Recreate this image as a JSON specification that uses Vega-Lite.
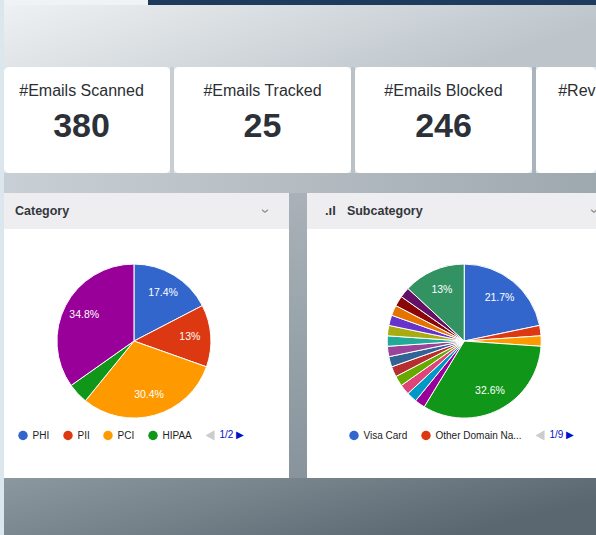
{
  "$schema": "https://vega.github.io/schema/vega-lite/v6.json",
  "background": "#dce7ed",
  "padding": {"left": 4, "top": 0, "right": 0, "bottom": 0},
  "spacing": 0,
  "config": {
    "view": {"stroke": null},
    "concat": {"spacing": 0},
    "text": {"font": "Liberation Sans"}
  },
  "datasets": {
    "kpi": [
      {"card": "Scanned", "label": "#Emails Scanned", "value": 380},
      {"card": "Tracked", "label": "#Emails Tracked", "value": 25},
      {"card": "Blocked", "label": "#Emails Blocked", "value": 246},
      {"card": "Reviewed", "label": "#Reviewed Emails"}
    ],
    "panels": [
      {"panel": "Category"},
      {"panel": "Subcategory"}
    ],
    "category": [
      {"category": "PHI", "count": 4, "idx": 1},
      {"category": "PII", "count": 3, "idx": 2},
      {"category": "PCI", "count": 7, "idx": 3},
      {"category": "HIPAA", "count": 1, "idx": 4},
      {"category": "GDPR", "count": 8, "idx": 5}
    ],
    "subcategory": [
      {"subcategory": "Visa Card", "count": 10, "idx": 1},
      {"subcategory": "Other Domain Names", "count": 1, "idx": 2},
      {"subcategory": "MasterCard", "count": 1, "idx": 3},
      {"subcategory": "Email Address", "count": 15, "idx": 4},
      {"subcategory": "SSN", "count": 1, "idx": 5},
      {"subcategory": "Phone Number", "count": 1, "idx": 6},
      {"subcategory": "Date of Birth", "count": 1, "idx": 7},
      {"subcategory": "Passport Number", "count": 1, "idx": 8},
      {"subcategory": "Driver License", "count": 1, "idx": 9},
      {"subcategory": "Bank Account", "count": 1, "idx": 10},
      {"subcategory": "Medical Record", "count": 1, "idx": 11},
      {"subcategory": "Health Plan ID", "count": 1, "idx": 12},
      {"subcategory": "IP Address", "count": 1, "idx": 13},
      {"subcategory": "Amex Card", "count": 1, "idx": 14},
      {"subcategory": "IBAN", "count": 1, "idx": 15},
      {"subcategory": "Tax ID", "count": 1, "idx": 16},
      {"subcategory": "Home Address", "count": 1, "idx": 17},
      {"subcategory": "Full Name", "count": 6, "idx": 18}
    ]
  },
  "resolve": {"scale": {"x": "independent", "y": "independent", "color": "independent", "theta": "independent"}, "legend": {"color": "independent"}},
  "vconcat": [
    {
      "hconcat": [
        {"width": 144, "height": 5, "view": {"fill": "#f0f3f5", "stroke": null}, "data": {"values": [{}]}, "mark": {"type": "text", "text": "", "fontSize": 0}},
        {"width": 448, "height": 5, "view": {"fill": "#1e3a5c", "stroke": null}, "data": {"values": [{}]}, "mark": {"type": "text", "text": "", "fontSize": 0}}
      ],
      "spacing": 0
    },
    {
      "width": 592, "height": 62,
      "view": {"stroke": null, "fill": {"gradient": "linear", "x1": 0, "y1": 0, "x2": 1, "y2": 0.3, "stops": [{"offset": 0, "color": "#eef1f3"}, {"offset": 0.5, "color": "#d6dbdf"}, {"offset": 1, "color": "#bdc5cb"}]}},
      "data": {"values": [{}]},
      "mark": {"type": "text", "text": "", "fontSize": 0}
    },
    {
      "hconcat": [
        {
          "width": 166, "height": 106,
          "view": {"fill": "#ffffff", "stroke": null, "cornerRadius": 5},
          "data": {"name": "kpi"},
          "transform": [{"filter": "datum.card === 'Scanned'"}],
          "encoding": {"x": {"datum": "c", "type": "nominal", "scale": {"type": "point", "domain": ["c"], "padding": 0, "align": 0.467}, "axis": null}},
          "layer": [
            {"mark": {"type": "text", "fontSize": 16, "color": "#2b2e33", "baseline": "alphabetic"},
             "encoding": {"text": {"field": "label"}, "y": {"datum": "label", "type": "nominal", "scale": {"type": "point", "domain": ["label", "value"], "padding": 0.793, "align": 0.446}, "axis": null}}},
            {"mark": {"type": "text", "fontSize": 34, "fontWeight": "bold", "color": "#2c3039", "baseline": "alphabetic"},
             "encoding": {"text": {"field": "value"}, "y": {"datum": "value", "type": "nominal", "scale": {"type": "point", "domain": ["label", "value"], "padding": 0.793, "align": 0.446}, "axis": null}}}
          ]
        },
        {"width": 4, "height": 106, "view": {"fill": "#c8cfd4", "stroke": null}, "data": {"values": [{}]}, "mark": {"type": "text", "text": "", "fontSize": 0}},
        {
          "width": 177, "height": 106,
          "view": {"fill": "#ffffff", "stroke": null, "cornerRadius": 5},
          "data": {"name": "kpi"},
          "transform": [{"filter": "datum.card === 'Tracked'"}],
          "layer": [
            {"mark": {"type": "text", "fontSize": 16, "color": "#2b2e33", "baseline": "alphabetic"},
             "encoding": {"text": {"field": "label"}, "y": {"datum": "label", "type": "nominal", "scale": {"type": "point", "domain": ["label", "value"], "padding": 0.793, "align": 0.446}, "axis": null}}},
            {"mark": {"type": "text", "fontSize": 34, "fontWeight": "bold", "color": "#2c3039", "baseline": "alphabetic"},
             "encoding": {"text": {"field": "value"}, "y": {"datum": "value", "type": "nominal", "scale": {"type": "point", "domain": ["label", "value"], "padding": 0.793, "align": 0.446}, "axis": null}}}
          ]
        },
        {"width": 4, "height": 106, "view": {"fill": "#bac2c8", "stroke": null}, "data": {"values": [{}]}, "mark": {"type": "text", "text": "", "fontSize": 0}},
        {
          "width": 177, "height": 106,
          "view": {"fill": "#ffffff", "stroke": null, "cornerRadius": 5},
          "data": {"name": "kpi"},
          "transform": [{"filter": "datum.card === 'Blocked'"}],
          "layer": [
            {"mark": {"type": "text", "fontSize": 16, "color": "#2b2e33", "baseline": "alphabetic"},
             "encoding": {"text": {"field": "label"}, "y": {"datum": "label", "type": "nominal", "scale": {"type": "point", "domain": ["label", "value"], "padding": 0.793, "align": 0.446}, "axis": null}}},
            {"mark": {"type": "text", "fontSize": 34, "fontWeight": "bold", "color": "#2c3039", "baseline": "alphabetic"},
             "encoding": {"text": {"field": "value"}, "y": {"datum": "value", "type": "nominal", "scale": {"type": "point", "domain": ["label", "value"], "padding": 0.793, "align": 0.446}, "axis": null}}}
          ]
        },
        {"width": 4, "height": 106, "view": {"fill": "#abb4bb", "stroke": null}, "data": {"values": [{}]}, "mark": {"type": "text", "text": "", "fontSize": 0}},
        {
          "width": 60, "height": 106,
          "view": {"fill": "#ffffff", "stroke": null, "cornerRadius": 5},
          "data": {"name": "kpi"},
          "transform": [{"filter": "datum.card === 'Reviewed'"}],
          "mark": {"type": "text", "fontSize": 16, "color": "#2b2e33", "baseline": "alphabetic", "align": "left", "clip": true},
          "encoding": {
            "text": {"field": "label"},
            "x": {"datum": "c", "type": "nominal", "scale": {"type": "point", "domain": ["c"], "padding": 0, "align": 0.37}, "axis": null},
            "y": {"datum": "label", "type": "nominal", "scale": {"type": "point", "domain": ["label", "value"], "padding": 0.793, "align": 0.446}, "axis": null}
          }
        }
      ],
      "spacing": 0,
      "resolve": {"scale": {"x": "independent", "y": "independent"}}
    },
    {
      "width": 592, "height": 20,
      "view": {"stroke": null, "fill": {"gradient": "linear", "x1": 0, "y1": 0, "x2": 1, "y2": 0, "stops": [{"offset": 0, "color": "#c9d0d5"}, {"offset": 0.5, "color": "#b4bcc2"}, {"offset": 1, "color": "#9ea8af"}]}},
      "data": {"values": [{}]},
      "mark": {"type": "text", "text": "", "fontSize": 0}
    },
    {
      "hconcat": [
        {
          "vconcat": [
            {
              "width": 285, "height": 36,
              "view": {"fill": "#eeeef0", "stroke": null},
              "data": {"name": "panels"},
              "transform": [{"filter": "datum.panel === 'Category'"}],
              "layer": [
                {"mark": {"type": "text", "align": "left", "baseline": "middle", "fontSize": 12.5, "fontWeight": "bold", "color": "#33363b"},
                 "encoding": {"text": {"field": "panel"}, "x": {"datum": "a", "type": "nominal", "scale": {"type": "point", "domain": ["a"], "padding": 0, "align": 0.0386}, "axis": null}}},
                {"mark": {"type": "text", "text": "›", "angle": 90, "align": "center", "baseline": "middle", "fontSize": 15, "color": "#7a7d82"},
                 "encoding": {"x": {"datum": "b", "type": "nominal", "scale": {"type": "point", "domain": ["b"], "padding": 0, "align": 0.919}, "axis": null}}}
              ],
              "resolve": {"scale": {"x": "independent"}}
            },
            {
              "width": 285, "height": 249,
              "view": {"fill": "#ffffff", "stroke": null},
              "data": {"name": "category"},
              "encoding": {
                "x": {"datum": "c", "type": "nominal", "scale": {"type": "point", "domain": ["c"], "padding": 0, "align": 0.456}, "axis": null},
                "y": {"datum": "c", "type": "nominal", "scale": {"type": "point", "domain": ["c"], "padding": 0, "align": 0.45}, "axis": null},
                "theta": {"field": "count", "type": "quantitative", "stack": true},
                "order": {"field": "idx", "type": "quantitative"}
              },
              "layer": [
                {
                  "mark": {"type": "arc", "outerRadius": 77, "stroke": "#ffffff", "strokeWidth": 1},
                  "encoding": {
                    "color": {
                      "field": "category", "type": "nominal",
                      "scale": {"domain": ["PHI", "PII", "PCI", "HIPAA", "GDPR", "1/2"], "range": ["#3366cc", "#dc3912", "#ff9900", "#109618", "#990099", "#cccccc"]},
                      "legend": {
                        "orient": "none", "legendX": 14, "legendY": 237, "direction": "horizontal", "columns": 5, "title": null,
                        "values": ["PHI", "PII", "PCI", "HIPAA", "1/2"],
                        "symbolType": {"expr": "datum.value === '1/2' ? 'triangle-left' : 'circle'"},
                        "symbolSize": {"expr": "datum.value === '1/2' ? 110 : 90"},
                        "symbolStrokeWidth": 0,
                        "labelFont": "Liberation Sans", "labelFontSize": 10, "labelOffset": 4.5,
                        "labelColor": {"expr": "datum.value === '1/2' ? '#0011cc' : '#222222'"},
                        "columnPadding": 13, "padding": 0,
                        "labelExpr": "datum.value === '1/2' ? '1/2 ▶' : datum.label"
                      }
                    }
                  }
                },
                {
                  "transform": [
                    {"joinaggregate": [{"op": "sum", "field": "count", "as": "total"}]},
                    {"calculate": "datum.count / datum.total > 0.05 ? format(datum.count / datum.total, '.1~%') : ''", "as": "lbl"}
                  ],
                  "mark": {"type": "text", "radius": 56, "fill": "#ffffff", "fontSize": 10.5, "font": "Liberation Sans", "align": "center", "baseline": "middle"},
                  "encoding": {"text": {"field": "lbl"}, "detail": {"field": "category"}}
                }
              ]
            }
          ],
          "spacing": 0,
          "resolve": {"scale": {"x": "independent", "y": "independent"}}
        },
        {
          "width": 18, "height": 285,
          "view": {"stroke": null, "fill": {"gradient": "linear", "x1": 0, "y1": 0, "x2": 0, "y2": 1, "stops": [{"offset": 0, "color": "#a9b2b9"}, {"offset": 1, "color": "#88939b"}]}},
          "data": {"values": [{}]},
          "mark": {"type": "text", "text": "", "fontSize": 0}
        },
        {
          "vconcat": [
            {
              "width": 289, "height": 36,
              "view": {"fill": "#eeeef0", "stroke": null},
              "data": {"name": "panels"},
              "transform": [{"filter": "datum.panel === 'Subcategory'"}],
              "layer": [
                {"mark": {"type": "text", "text": ".ıl", "align": "left", "baseline": "middle", "fontSize": 13, "fontWeight": "bold", "color": "#33363b"},
                 "encoding": {"x": {"datum": "i", "type": "nominal", "scale": {"type": "point", "domain": ["i"], "padding": 0, "align": 0.062}, "axis": null}}},
                {"mark": {"type": "text", "align": "left", "baseline": "middle", "fontSize": 12.5, "fontWeight": "bold", "color": "#33363b"},
                 "encoding": {"text": {"field": "panel"}, "x": {"datum": "a", "type": "nominal", "scale": {"type": "point", "domain": ["a"], "padding": 0, "align": 0.138}, "axis": null}}},
                {"mark": {"type": "text", "text": "›", "angle": 90, "align": "center", "baseline": "middle", "fontSize": 15, "color": "#7a7d82", "clip": true},
                 "encoding": {"x": {"datum": "b", "type": "nominal", "scale": {"type": "point", "domain": ["b"], "padding": 0, "align": 0.997}, "axis": null}}}
              ],
              "resolve": {"scale": {"x": "independent"}}
            },
            {
              "width": 289, "height": 249,
              "view": {"fill": "#ffffff", "stroke": null},
              "data": {"name": "subcategory"},
              "encoding": {
                "x": {"datum": "c", "type": "nominal", "scale": {"type": "point", "domain": ["c"], "padding": 0, "align": 0.544}, "axis": null},
                "y": {"datum": "c", "type": "nominal", "scale": {"type": "point", "domain": ["c"], "padding": 0, "align": 0.45}, "axis": null},
                "theta": {"field": "count", "type": "quantitative", "stack": true},
                "order": {"field": "idx", "type": "quantitative"}
              },
              "layer": [
                {
                  "mark": {"type": "arc", "outerRadius": 77, "stroke": "#ffffff", "strokeWidth": 1},
                  "encoding": {
                    "color": {
                      "field": "subcategory", "type": "nominal",
                      "scale": {
                        "domain": ["Visa Card", "Other Domain Names", "MasterCard", "Email Address", "SSN", "Phone Number", "Date of Birth", "Passport Number", "Driver License", "Bank Account", "Medical Record", "Health Plan ID", "IP Address", "Amex Card", "IBAN", "Tax ID", "Home Address", "Full Name", "1/9"],
                        "range": ["#3366cc", "#dc3912", "#ff9900", "#109618", "#990099", "#0099c6", "#dd4477", "#66aa00", "#b82e2e", "#316395", "#994499", "#22aa99", "#aaaa11", "#6633cc", "#e67300", "#8b0707", "#651067", "#329262", "#cccccc"]
                      },
                      "legend": {
                        "orient": "none", "legendX": 42, "legendY": 237, "direction": "horizontal", "columns": 3, "title": null,
                        "values": ["Visa Card", "Other Domain Names", "1/9"],
                        "symbolType": {"expr": "datum.value === '1/9' ? 'triangle-left' : 'circle'"},
                        "symbolSize": {"expr": "datum.value === '1/9' ? 110 : 90"},
                        "symbolStrokeWidth": 0,
                        "labelFont": "Liberation Sans", "labelFontSize": 10, "labelOffset": 4.5,
                        "labelColor": {"expr": "datum.value === '1/9' ? '#0011cc' : '#222222'"},
                        "columnPadding": 13, "padding": 0,
                        "labelExpr": "datum.value === 'Other Domain Names' ? 'Other Domain Na...' : datum.value === '1/9' ? '1/9 ▶' : datum.label"
                      }
                    }
                  }
                },
                {
                  "transform": [
                    {"joinaggregate": [{"op": "sum", "field": "count", "as": "total"}]},
                    {"calculate": "datum.count / datum.total > 0.05 ? format(datum.count / datum.total, '.1~%') : ''", "as": "lbl"}
                  ],
                  "mark": {"type": "text", "radius": 56, "fill": "#ffffff", "fontSize": 10.5, "font": "Liberation Sans", "align": "center", "baseline": "middle"},
                  "encoding": {"text": {"field": "lbl"}, "detail": {"field": "subcategory"}}
                }
              ]
            }
          ],
          "spacing": 0,
          "resolve": {"scale": {"x": "independent", "y": "independent"}}
        }
      ],
      "spacing": 0,
      "resolve": {"scale": {"x": "independent", "y": "independent", "color": "independent", "theta": "independent"}, "legend": {"color": "independent"}}
    },
    {
      "width": 592, "height": 57,
      "view": {"stroke": null, "fill": {"gradient": "linear", "x1": 0, "y1": 0, "x2": 1, "y2": 0.4, "stops": [{"offset": 0, "color": "#8c98a0"}, {"offset": 0.5, "color": "#748189"}, {"offset": 1, "color": "#5a6670"}]}},
      "data": {"values": [{}]},
      "mark": {"type": "text", "text": "", "fontSize": 0}
    }
  ]
}
